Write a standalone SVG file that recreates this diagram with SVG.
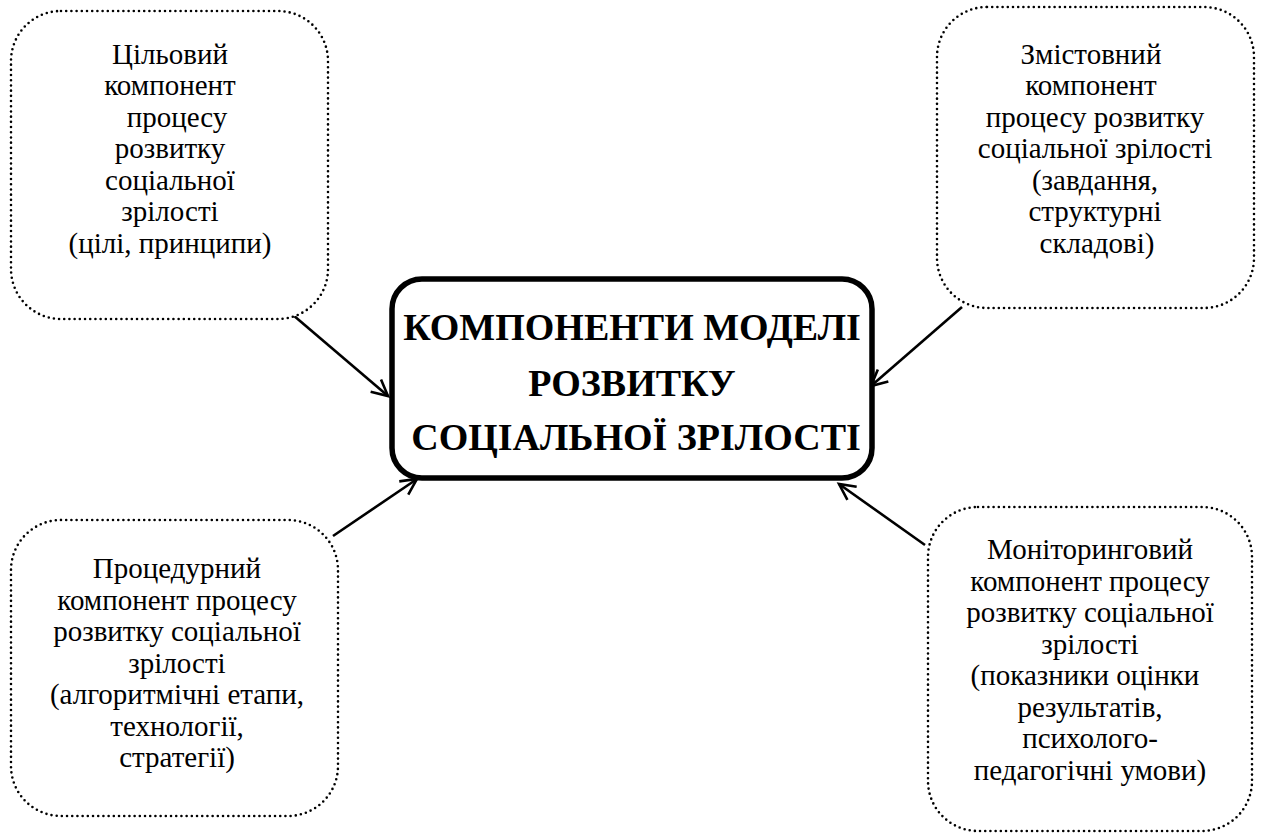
<svg xmlns="http://www.w3.org/2000/svg" width="1262" height="835" viewBox="0 0 1262 835">
<style>
.bg{fill:#ffffff}
.side{fill:#ffffff;stroke:#000;stroke-width:2.6;stroke-dasharray:0 5.2;stroke-linecap:round}
.main{fill:#ffffff;stroke:#000;stroke-width:5.5}
.t{font-family:'Liberation Serif','Times New Roman',serif;font-size:29px;fill:#000;text-anchor:middle}
.h{font-family:'Liberation Serif','Times New Roman',serif;font-size:38px;font-weight:bold;fill:#000;text-anchor:middle}
.c{fill:none;stroke:#000;stroke-width:2.6}
</style>
<defs>
<marker id="arr" markerUnits="userSpaceOnUse" markerWidth="24" markerHeight="24" viewBox="-18 -12 24 24" refX="0" refY="0" orient="auto">
<path d="M-16,-8 L0,0 L-16,8" fill="none" stroke="#000" stroke-width="2.6"/>
</marker>
</defs>
<rect class="bg" x="0" y="0" width="1262" height="835"/>
<g id="connectors">
<line class="c" x1="293" y1="315" x2="388" y2="396" marker-end="url(#arr)"/>
<line class="c" x1="962" y1="307" x2="871" y2="386" marker-end="url(#arr)"/>
<line class="c" x1="333" y1="536" x2="417" y2="479" marker-end="url(#arr)"/>
<line class="c" x1="925" y1="545" x2="839" y2="484" marker-end="url(#arr)"/>
</g>
<g id="node-center">
<rect class="main" x="392" y="279" width="480" height="199" rx="30" ry="30"/>
<text class="h" x="632" y="340">КОМПОНЕНТИ МОДЕЛІ</text>
<text class="h" x="632" y="396">РОЗВИТКУ</text>
<text class="h" x="636" y="450">СОЦІАЛЬНОЇ ЗРІЛОСТІ</text>
</g>
<g id="node-target">
<rect class="side" x="11" y="11" width="317" height="308" rx="50" ry="50"/>
<text class="t" x="170" y="64">Цільовий</text>
<text class="t" x="170" y="95">компонент</text>
<text class="t" x="177" y="127">процесу</text>
<text class="t" x="170" y="158">розвитку</text>
<text class="t" x="170" y="190">соціальної</text>
<text class="t" x="170" y="221">зрілості</text>
<text class="t" x="170" y="253">(цілі, принципи)</text>
</g>
<g id="node-content">
<rect class="side" x="937" y="7" width="317" height="301" rx="50" ry="50"/>
<text class="t" x="1091" y="64">Змістовний</text>
<text class="t" x="1091" y="95">компонент</text>
<text class="t" x="1095" y="127">процесу розвитку</text>
<text class="t" x="1095" y="158">соціальної зрілості</text>
<text class="t" x="1095" y="190">(завдання,</text>
<text class="t" x="1095" y="221">структурні</text>
<text class="t" x="1097" y="253">складові)</text>
</g>
<g id="node-procedural">
<rect class="side" x="11" y="520" width="327" height="296" rx="50" ry="50"/>
<text class="t" x="177" y="578">Процедурний</text>
<text class="t" x="177" y="610">компонент процесу</text>
<text class="t" x="177" y="641">розвитку соціальної</text>
<text class="t" x="177" y="673">зрілості</text>
<text class="t" x="177" y="704">(алгоритмічні етапи,</text>
<text class="t" x="177" y="736">технології,</text>
<text class="t" x="177" y="767">стратегії)</text>
</g>
<g id="node-monitoring">
<rect class="side" x="928" y="507" width="324" height="324" rx="50" ry="50"/>
<text class="t" x="1090" y="559">Моніторинговий</text>
<text class="t" x="1090" y="591">компонент процесу</text>
<text class="t" x="1090" y="622">розвитку соціальної</text>
<text class="t" x="1090" y="654">зрілості</text>
<text class="t" x="1085" y="685">(показники оцінки</text>
<text class="t" x="1090" y="717">результатів,</text>
<text class="t" x="1090" y="748">психолого-</text>
<text class="t" x="1090" y="780">педагогічні умови)</text>
</g>
</svg>
